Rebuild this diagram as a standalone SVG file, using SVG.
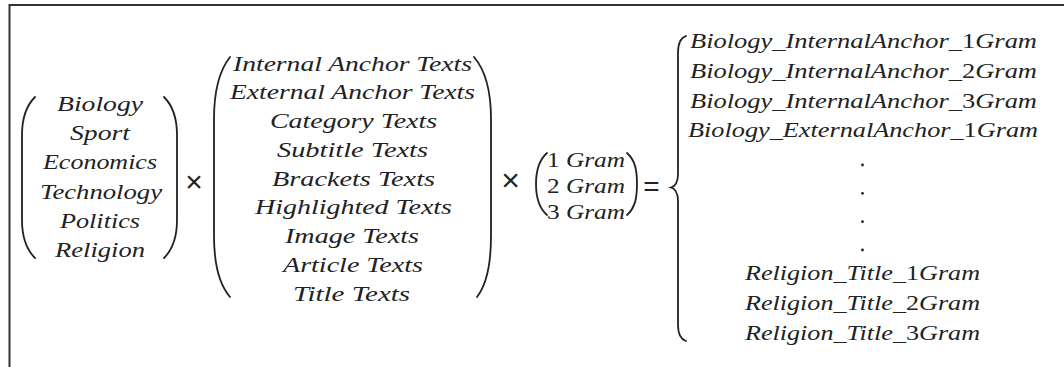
<svg xmlns="http://www.w3.org/2000/svg" width="1064" height="367" viewBox="0 0 1064 367">
  <style>
    .t { font-family: "Liberation Serif", "DejaVu Serif", serif; font-style: italic; font-size: 22px; fill: #222; }
    .g { font-family: "Liberation Serif", "DejaVu Serif", serif; font-style: italic; font-size: 21px; fill: #222; }
    .n { font-style: normal; }
    .op { font-family: "Liberation Sans", "DejaVu Sans", sans-serif; fill: #222; text-anchor: middle; }
    .br { fill: none; stroke: #222; stroke-width: 1.8; stroke-linecap: round; }
    .frame { fill: none; stroke: #333; stroke-width: 2; }
  </style>
  <rect width="1064" height="367" fill="#fff"/>
  <path class="frame" d="M9.5,367 L9.5,5 L1064,5"/>

  <g id="topics">
    <path class="br" d="M35,97 C26,106 22,118 22,135 L22,220 C22,237 26,249 35,258"/>
    <path class="br" d="M164,97 C173,106 177,118 177,135 L177,220 C177,237 173,249 164,258"/>
    <text class="t" x="57" y="111" textLength="86" lengthAdjust="spacingAndGlyphs">Biology</text>
    <text class="t" x="70" y="140.2" textLength="60" lengthAdjust="spacingAndGlyphs">Sport</text>
    <text class="t" x="43" y="169.4" textLength="114" lengthAdjust="spacingAndGlyphs">Economics</text>
    <text class="t" x="40" y="198.6" textLength="122" lengthAdjust="spacingAndGlyphs">Technology</text>
    <text class="t" x="60" y="227.8" textLength="80" lengthAdjust="spacingAndGlyphs">Politics</text>
    <text class="t" x="55" y="257" textLength="90" lengthAdjust="spacingAndGlyphs">Religion</text>
  </g>

  <g id="times1">
    <text class="op" x="194" y="192" font-size="30">×</text>
  </g>

  <g id="texttypes">
    <path class="br" d="M230,57 C219,71 214,91 214,119 L214,236 C214,264 219,284 230,297"/>
    <path class="br" d="M474,57 C486,71 491,91 491,119 L491,236 C491,264 487,284 477,297"/>
    <text class="t" x="233" y="70.5" textLength="239" lengthAdjust="spacingAndGlyphs">Internal Anchor Texts</text>
    <text class="t" x="230" y="99.25" textLength="245" lengthAdjust="spacingAndGlyphs">External Anchor Texts</text>
    <text class="t" x="270" y="128" textLength="167" lengthAdjust="spacingAndGlyphs">Category Texts</text>
    <text class="t" x="277" y="156.75" textLength="151" lengthAdjust="spacingAndGlyphs">Subtitle Texts</text>
    <text class="t" x="272" y="185.5" textLength="163" lengthAdjust="spacingAndGlyphs">Brackets Texts</text>
    <text class="t" x="255" y="214.25" textLength="197" lengthAdjust="spacingAndGlyphs">Highlighted Texts</text>
    <text class="t" x="285" y="243" textLength="134" lengthAdjust="spacingAndGlyphs">Image Texts</text>
    <text class="t" x="283" y="271.75" textLength="140" lengthAdjust="spacingAndGlyphs">Article Texts</text>
    <text class="t" x="293" y="300.5" textLength="117" lengthAdjust="spacingAndGlyphs">Title Texts</text>
  </g>

  <g id="times2">
    <text class="op" x="510.5" y="191" font-size="32">×</text>
  </g>

  <g id="grams">
    <path class="br" d="M547,153 C539,160 536,170 536,184 C536,198 539,208 547,215"/>
    <path class="br" d="M627,153 C635,160 637,170 637,184 C637,198 635,208 627,215"/>
    <text class="g" x="547" y="167" textLength="78" lengthAdjust="spacingAndGlyphs"><tspan class="n">1</tspan> Gram</text>
    <text class="g" x="547" y="193" textLength="78" lengthAdjust="spacingAndGlyphs"><tspan class="n">2</tspan> Gram</text>
    <text class="g" x="547" y="219" textLength="78" lengthAdjust="spacingAndGlyphs"><tspan class="n">3</tspan> Gram</text>
  </g>

  <g id="equals">
    <text class="op" x="651.5" y="195.5" font-size="28">=</text>
  </g>

  <g id="results">
    <path class="br" d="M686,36 C680,38 678,44 678,53 L678,174 C678,182 676,186 671,187.5 C676,189 678,193 678,201 L678,325 C678,334 680,339 686,341"/>
    <text class="t" x="690" y="48" textLength="347" lengthAdjust="spacingAndGlyphs">Biology_InternalAnchor_<tspan class="n">1</tspan>Gram</text>
    <text class="t" x="690" y="78" textLength="347" lengthAdjust="spacingAndGlyphs">Biology_InternalAnchor_<tspan class="n">2</tspan>Gram</text>
    <text class="t" x="690" y="107.5" textLength="347" lengthAdjust="spacingAndGlyphs">Biology_InternalAnchor_<tspan class="n">3</tspan>Gram</text>
    <text class="t" x="688" y="137" textLength="350" lengthAdjust="spacingAndGlyphs">Biology_ExternalAnchor_<tspan class="n">1</tspan>Gram</text>
    <circle cx="862.5" cy="165" r="1.4" fill="#222"/>
    <circle cx="862.5" cy="193.3" r="1.4" fill="#222"/>
    <circle cx="862.5" cy="221.7" r="1.4" fill="#222"/>
    <circle cx="862.5" cy="250" r="1.4" fill="#222"/>
    <text class="t" x="745" y="280" textLength="235" lengthAdjust="spacingAndGlyphs">Religion_Title_<tspan class="n">1</tspan>Gram</text>
    <text class="t" x="745" y="310" textLength="235" lengthAdjust="spacingAndGlyphs">Religion_Title_<tspan class="n">2</tspan>Gram</text>
    <text class="t" x="745" y="340" textLength="235" lengthAdjust="spacingAndGlyphs">Religion_Title_<tspan class="n">3</tspan>Gram</text>
  </g>
</svg>
